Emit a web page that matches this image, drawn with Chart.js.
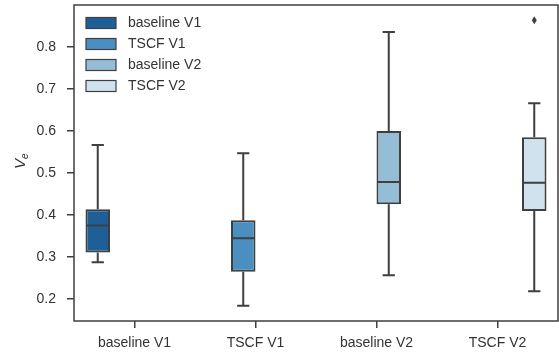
<!DOCTYPE html>
<html lang="en">
<head>
  <meta charset="UTF-8" />
  <title>Ve by method</title>
  <script src="https://cdn.jsdelivr.net/npm/chart.js"></script>
  <style>
    html, body {
      margin: 0;
      padding: 0;
      background: #fff;
      overflow: hidden;
    }
    .chart-wrapper {
      width: 559px;
      height: 360px;
      position: relative;
    }
  </style>
</head>
<body>
  <div class="chart-wrapper">
    <canvas id="veChart"></canvas>
  </div>
  <script>
    const categories = ['baseline V1', 'TSCF V1', 'baseline V2', 'TSCF V2'];
    const whiskerLow  = [0.288, 0.184, 0.257, 0.219];
    const q1          = [0.311, 0.265, 0.426, 0.410];
    const median      = [0.375, 0.345, 0.479, 0.477];
    const q3          = [0.414, 0.388, 0.600, 0.585];
    const whiskerHigh = [0.567, 0.547, 0.836, 0.666];
    const outliers    = [[], [], [], [0.864]];
    const yTicks = [0.2, 0.3, 0.4, 0.5, 0.6, 0.7, 0.8];

    const boxColors = ['#1f5f98', '#4a8fbf', '#95bed6', '#d0e2ee'];
    const edge = '#3f3f3f';
    const textColor = '#333';
    const fontFamily = '"Liberation Sans", Arial, Helvetica, sans-serif';

    // one dataset per group, each floating bar (q1..q3) only in its own slot
    const datasets = categories.map((name, i) => ({
      label: name,
      data: categories.map((_, j) => j === i ? [q1[i], q3[i]] : null),
      backgroundColor: boxColors[i],
      borderColor: edge,
      borderWidth: 2,
      borderSkipped: false,
      categoryPercentage: 0.81,
      barPercentage: 1.0
    }));

    // whiskers, caps, medians and fliers on top of the boxes
    const boxExtras = {
      id: 'boxExtras',
      afterDatasetsDraw(chart) {
        const ctx = chart.ctx;
        const y = chart.scales.y;
        ctx.save();
        ctx.strokeStyle = edge;
        ctx.fillStyle = edge;
        ctx.lineWidth = 2;
        categories.forEach((_, i) => {
          const bar = chart.getDatasetMeta(i).data[i];
          const x = bar.x;
          const half = bar.width / 2;
          const cap = bar.width / 4;
          ctx.beginPath();
          ctx.moveTo(x, y.getPixelForValue(q3[i]));
          ctx.lineTo(x, y.getPixelForValue(whiskerHigh[i]));
          ctx.moveTo(x, y.getPixelForValue(q1[i]));
          ctx.lineTo(x, y.getPixelForValue(whiskerLow[i]));
          ctx.moveTo(x - cap, y.getPixelForValue(whiskerHigh[i]));
          ctx.lineTo(x + cap, y.getPixelForValue(whiskerHigh[i]));
          ctx.moveTo(x - cap, y.getPixelForValue(whiskerLow[i]));
          ctx.lineTo(x + cap, y.getPixelForValue(whiskerLow[i]));
          ctx.moveTo(x - half + 1, y.getPixelForValue(median[i]));
          ctx.lineTo(x + half - 1, y.getPixelForValue(median[i]));
          ctx.stroke();
          outliers[i].forEach(v => {
            const py = y.getPixelForValue(v);
            ctx.beginPath();
            ctx.moveTo(x, py - 4);
            ctx.lineTo(x + 2.5, py);
            ctx.lineTo(x, py + 4);
            ctx.lineTo(x - 2.5, py);
            ctx.closePath();
            ctx.fill();
          });
        });
        ctx.restore();
      }
    };

    // full frame around the plot, legend in the upper left, and the y label
    const decorations = {
      id: 'decorations',
      afterDraw(chart) {
        const ctx = chart.ctx;
        const a = chart.chartArea;
        ctx.save();
        ctx.strokeStyle = edge;
        ctx.lineWidth = 1.5;
        ctx.strokeRect(a.left, a.top, a.right - a.left, a.bottom - a.top);

        ctx.font = '14px ' + fontFamily;
        ctx.textBaseline = 'middle';
        chart.data.datasets.forEach((ds, i) => {
          const cy = a.top + 18 + i * 21;
          ctx.fillStyle = ds.backgroundColor;
          ctx.fillRect(a.left + 12, cy - 5.5, 30, 11);
          ctx.lineWidth = 1.2;
          ctx.strokeStyle = edge;
          ctx.strokeRect(a.left + 12, cy - 5.5, 30, 11);
          ctx.fillStyle = textColor;
          ctx.fillText(ds.label, a.left + 54, cy);
        });

        ctx.translate(20, (a.top + a.bottom) / 2 - 2);
        ctx.rotate(-Math.PI / 2);
        ctx.fillStyle = textColor;
        ctx.textBaseline = 'alphabetic';
        ctx.font = 'italic 15px ' + fontFamily;
        const vw = ctx.measureText('V').width;
        ctx.fillText('V', -vw / 2 - 3, 5);
        ctx.font = 'italic 10px ' + fontFamily;
        ctx.fillText('e', vw / 2 - 3, 8);
        ctx.restore();
      }
    };

    new Chart(document.getElementById('veChart'), {
      type: 'bar',
      data: { labels: categories, datasets: datasets },
      options: {
        responsive: true,
        maintainAspectRatio: false,
        animation: false,
        layout: { padding: { top: 5, right: 1, left: 0, bottom: 0 } },
        plugins: { legend: { display: false }, tooltip: { enabled: false } },
        scales: {
          x: {
            grid: { offset: false, drawOnChartArea: false, drawTicks: true, tickLength: 7, color: edge, lineWidth: 1.5 },
            border: { display: false },
            ticks: { color: textColor, font: { size: 14, family: fontFamily }, padding: 7, maxRotation: 0 },
            afterFit(scale) {
              scale.height = 39;
              scale.paddingLeft = 0;
              scale.paddingRight = 0;
            }
          },
          y: {
            min: 0.148,
            max: 0.9,
            grid: { drawOnChartArea: false, drawTicks: true, tickLength: 7, color: edge, lineWidth: 1.5 },
            border: { display: false },
            ticks: {
              color: textColor,
              font: { size: 14, family: fontFamily },
              padding: 11,
              callback: v => v.toFixed(1)
            },
            afterBuildTicks(scale) { scale.ticks = yTicks.map(v => ({ value: v })); },
            afterFit(scale) {
              scale.width = 74;
              scale.paddingTop = 0;
              scale.paddingBottom = 0;
            }
          }
        }
      },
      plugins: [boxExtras, decorations]
    });
  </script>
</body>
</html>
